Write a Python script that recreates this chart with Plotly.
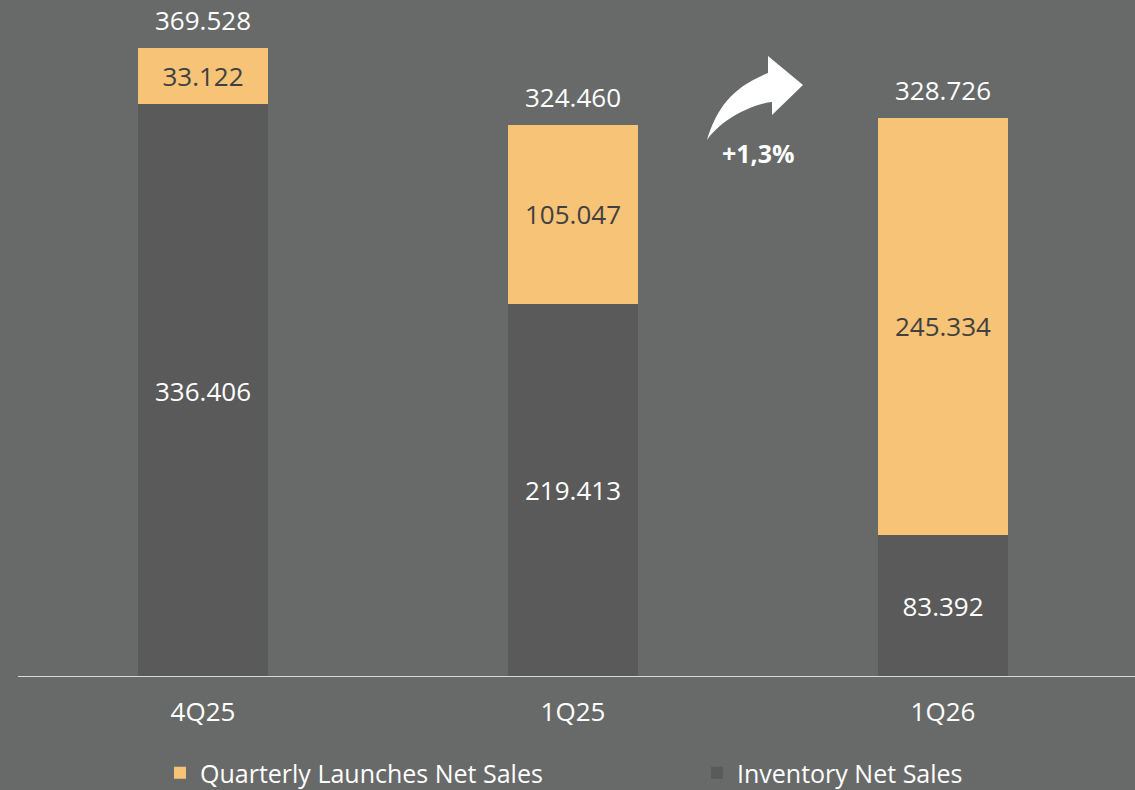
import plotly.graph_objects as go

# data
quarters = ["4Q25", "1Q25", "1Q26"]
inventory = [336.406, 219.413, 83.392]
launches = [33.122, 105.047, 245.334]
totals = [369.528, 324.460, 328.726]
growth_label = "+1,3%"

BG = "#686a69"
DARK = "#5a5a5a"
ORANGE = "#f6c377"
FONT = "Open Sans"

W, H = 1135, 790
L, R, T, B = 18, 7, 0, 113
pw, ph = W - L - R, H - T - B


def fmt(v):
    return f"{v:.3f}"


def px(x, y):
    # pixel position on the page -> paper coords
    return (x - L) / pw, (H - B - y) / ph


fig = go.Figure()
fig.add_trace(go.Bar(
    x=quarters, y=inventory, name="Inventory Net Sales", legend="legend2",
    marker=dict(color=DARK, line=dict(width=0)),
    text=[fmt(v) for v in inventory], textposition="inside",
    insidetextanchor="middle", textangle=0,
    textfont=dict(family=FONT, size=26, color="white"),
))
fig.add_trace(go.Bar(
    x=quarters, y=launches, name="Quarterly Launches Net Sales", legend="legend",
    marker=dict(color=ORANGE, line=dict(width=0)),
    text=[fmt(v) for v in launches], textposition="inside",
    insidetextanchor="middle", textangle=0,
    textfont=dict(family=FONT, size=26, color="#404040"),
))

# totals above the stacks
for q, t in zip(quarters, totals):
    fig.add_annotation(x=q, y=t, text=fmt(t), showarrow=False, yshift=28,
                       font=dict(family=FONT, size=26, color="white"))

# curved growth arrow
pts = [(707, 140), (717, 107), (733, 87), (750, 77), (768, 73),
       (768, 56), (803, 85), (772, 115), (772, 102),
       (757, 103), (740, 107), (723, 117), (707, 140)]
pp = [px(*p) for p in pts]
path = (f"M{pp[0][0]},{pp[0][1]} "
        f"C{pp[1][0]},{pp[1][1]} {pp[2][0]},{pp[2][1]} {pp[4][0]},{pp[4][1]} "
        f"L{pp[5][0]},{pp[5][1]} L{pp[6][0]},{pp[6][1]} L{pp[7][0]},{pp[7][1]} "
        f"L{pp[8][0]},{pp[8][1]} "
        f"C{pp[9][0]},{pp[9][1]} {pp[11][0]},{pp[11][1]} {pp[12][0]},{pp[12][1]} Z")
fig.add_shape(type="path", path=path, xref="paper", yref="paper",
              fillcolor="white", line=dict(width=0), layer="above")
ax, ay = px(758, 153)
fig.add_annotation(x=ax, y=ay, xref="paper", yref="paper", text=f"<b>{growth_label}</b>",
                   xanchor="center", yanchor="middle",
                   showarrow=False, font=dict(family=FONT, size=25, color="white"))

# baseline
x0, _ = px(18, 0)
x1, _ = px(1135, 0)
fig.add_shape(type="line", xref="paper", yref="y", x0=x0, x1=x1, y0=0, y1=0,
              line=dict(color="#d9d9d9", width=2), layer="above")

legend_font = dict(family=FONT, size=25, color="white")
l1x, ly = px(160, 773)
l2x, _ = px(697, 773)
fig.update_layout(
    width=W, height=H,
    margin=dict(l=L, r=R, t=T, b=B, autoexpand=False),
    paper_bgcolor=BG, plot_bgcolor=BG,
    barmode="stack", bargap=0.65,
    showlegend=True,
    legend=dict(orientation="h", x=l1x, y=ly, xanchor="left", yanchor="middle",
                bgcolor="rgba(0,0,0,0)", font=legend_font),
    legend2=dict(orientation="h", x=l2x, y=ly, xanchor="left", yanchor="middle",
                 bgcolor="rgba(0,0,0,0)", font=legend_font),
    xaxis=dict(showgrid=False, zeroline=False, showline=False, automargin=False,
               ticks="outside", ticklen=12, tickcolor="rgba(0,0,0,0)",
               tickfont=dict(family=FONT, size=26, color="white")),
    yaxis=dict(visible=False, range=[0, 397.8], automargin=False),
)

fig.write_html("out.html", config={"displayModeBar": False},
               post_script="document.body.style.margin='0';"
               "document.body.style.background='" + BG + "';")
